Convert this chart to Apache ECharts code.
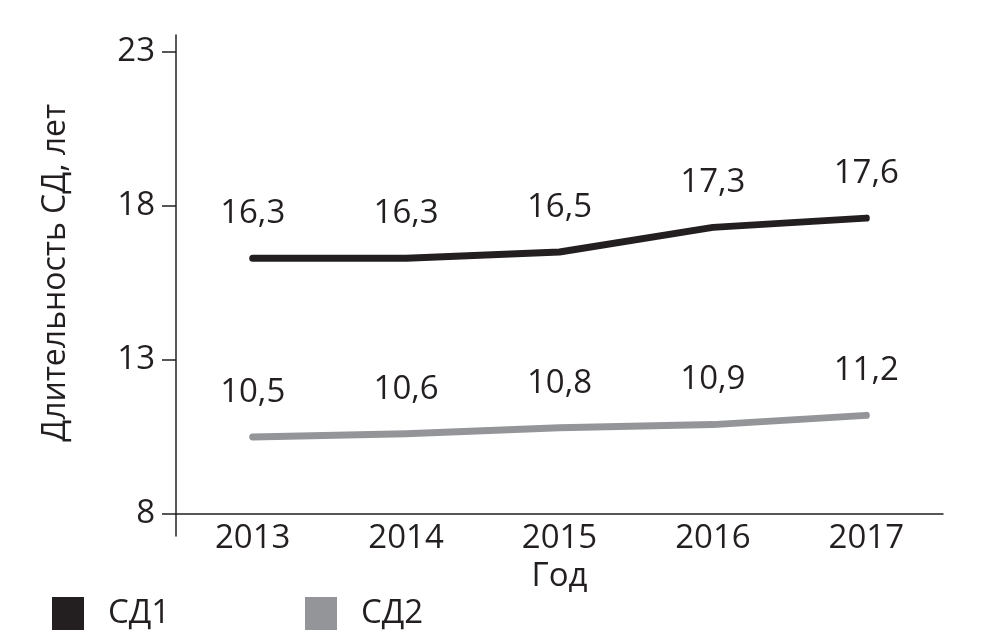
<!DOCTYPE html>
<html>
<head>
<meta charset="utf-8">
<script src="https://cdn.jsdelivr.net/npm/echarts@6/dist/echarts.min.js"></script>
<style>html,body{margin:0;padding:0;background:#fff;}#c{width:1008px;height:644px;}</style>
</head>
<body>
<div id="c"></div>
<script>
var years = ['2013', '2014', '2015', '2016', '2017'];
var sd1 = [16.3, 16.3, 16.5, 17.3, 17.6];
var sd2 = [10.5, 10.6, 10.8, 10.9, 11.2];
var seriesNames = ['СД1', 'СД2'];
var yTicks = [8, 13, 18, 23];
var yAxisName = 'Длительность СД, лет';
var xAxisName = 'Год';

var ink = '#231f20';
var gray = '#939598';
var font = '"Open Sans", "Noto Sans", sans-serif';
var fs = 33;

function lbl(p) { return p.value.toFixed(1).replace('.', ','); }

var chart = echarts.init(document.getElementById('c'), null, {renderer: 'canvas'});
chart.setOption({
  backgroundColor: '#fff',
  animation: false,
  textStyle: {fontFamily: font, color: ink},
  grid: [
    {left: 176, right: 65, top: 51.7, bottom: 130},
    {left: 176, right: 65, top: 35, bottom: 108}
  ],
  legend: [
    {left: 47, top: 592, data: [seriesNames[0]], icon: 'rect', itemWidth: 32, itemHeight: 33,
     textStyle: {fontFamily: font, fontSize: fs, color: ink, padding: [0, 0, 0, 19]}},
    {left: 300, top: 592, data: [seriesNames[1]], icon: 'rect', itemWidth: 32, itemHeight: 33,
     textStyle: {fontFamily: font, fontSize: fs, color: ink, padding: [0, 0, 0, 19]}}
  ],
  xAxis: [
    {type: 'category', gridIndex: 0, data: years, boundaryGap: true,
     axisLine: {show: true, lineStyle: {color: ink, width: 1.5}},
     axisTick: {show: false},
     axisLabel: {fontFamily: font, fontSize: fs, color: ink, margin: 8},
     name: xAxisName, nameLocation: 'middle', nameGap: 34,
     nameTextStyle: {fontFamily: font, fontSize: fs, color: ink}},
    {type: 'category', gridIndex: 1, data: years, show: false}
  ],
  yAxis: [
    {type: 'value', gridIndex: 0, min: yTicks[0], max: yTicks[yTicks.length - 1], interval: 5,
     axisLine: {show: false},
     axisTick: {show: true, length: 14, lineStyle: {color: ink, width: 1.5}},
     splitLine: {show: false},
     axisLabel: {fontFamily: font, fontSize: fs, color: ink, margin: 21},
     name: yAxisName, nameLocation: 'middle', nameGap: 104, nameRotate: 90,
     nameTextStyle: {fontFamily: font, fontSize: 32, color: ink, padding: [0, 0, 0, 20]}},
    {type: 'value', gridIndex: 1, min: 0, max: 1,
     axisLine: {show: true, lineStyle: {color: ink, width: 1.5}},
     axisTick: {show: false}, axisLabel: {show: false}, splitLine: {show: false}}
  ],
  series: [
    {name: seriesNames[0], type: 'line', xAxisIndex: 0, yAxisIndex: 0, data: sd1,
     symbol: 'circle', symbolSize: 0.1, itemStyle: {color: ink},
     lineStyle: {color: ink, width: 7, cap: 'round', join: 'round'},
     label: {show: true, position: 'top', distance: 28, formatter: lbl,
             fontFamily: font, fontSize: fs, color: ink}},
    {name: seriesNames[1], type: 'line', xAxisIndex: 0, yAxisIndex: 0, data: sd2,
     symbol: 'circle', symbolSize: 0.1, itemStyle: {color: gray},
     lineStyle: {color: gray, width: 7, cap: 'round', join: 'round'},
     label: {show: true, position: 'top', distance: 28, formatter: lbl,
             fontFamily: font, fontSize: fs, color: ink}}
  ]
});
</script>
</body>
</html>
